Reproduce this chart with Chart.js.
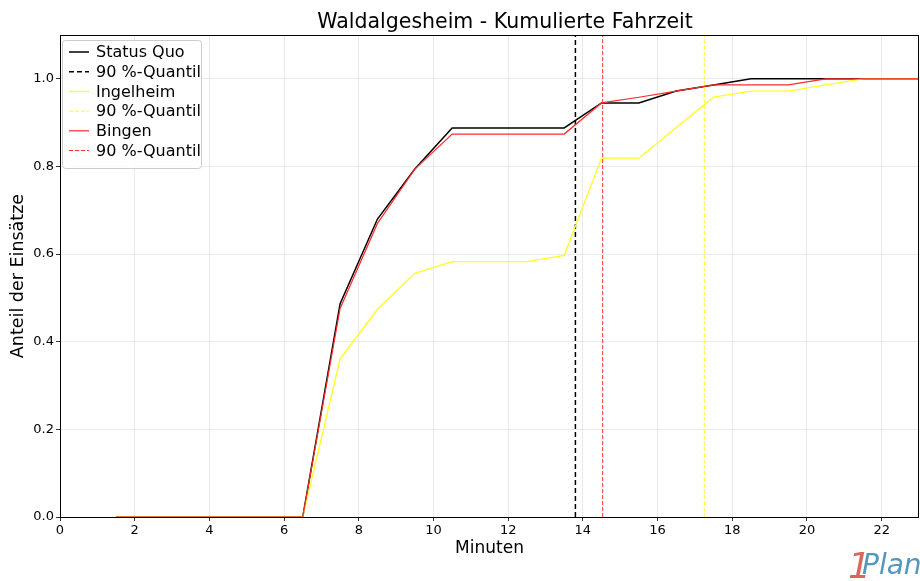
<!DOCTYPE html>
<html>
<head>
<meta charset="utf-8">
<script src="https://cdn.jsdelivr.net/npm/chart.js@4"></script>
<style>
  html, body { margin: 0; padding: 0; background: #fff; }
  canvas { display: block; }
</style>
</head>
<body>
<canvas id="chart" width="920" height="581"></canvas>
<script>
// Daten
const minutes = [1.5, 2.5, 3.5, 4.5, 5.5, 6.5, 7.5, 8.5, 9.5, 10.5, 11.5, 12.5, 13.5, 14.5, 15.5, 16.5, 17.5, 18.5, 19.5, 20.5, 21.5, 22.5, 23.5];
const statusQuo = [0, 0, 0, 0, 0, 0, 0.487, 0.680, 0.794, 0.888, 0.888, 0.888, 0.888, 0.945, 0.945, 0.972, 0.986, 1, 1, 1, 1, 1, 1];
const ingelheim = [0, 0, 0, 0, 0, 0, 0.361, 0.474, 0.556, 0.583, 0.583, 0.583, 0.597, 0.819, 0.819, 0.889, 0.958, 0.972, 0.972, 0.986, 1, 1, 1];
const bingen = [0, 0, 0, 0, 0, 0, 0.476, 0.670, 0.794, 0.874, 0.874, 0.874, 0.874, 0.945, 0.958, 0.972, 0.986, 0.986, 0.986, 1, 1, 1, 1];
const quantilStatusQuo = 13.8;
const quantilIngelheim = 17.25;
const quantilBingen = 14.53;
const xTicks = [0, 2, 4, 6, 8, 10, 12, 14, 16, 18, 20, 22];
const yTicks = [0, 0.2, 0.4, 0.6, 0.8, 1.0];

const FONT = "'DejaVu Sans', sans-serif";

const pts = (ys) => minutes.map((m, i) => ({ x: m, y: ys[i] }));
const vline = (x) => [{ x: x, y: 0 }, { x: x, y: 1.1 }];

// Reihenfolge wie matplotlib (Legende), Chart.js zeichnet den ersten Datensatz oben
const series = [
  { label: 'Status Quo', data: pts(statusQuo), borderColor: '#000000', borderWidth: 1.5, borderDash: [] },
  { label: '90 %-Quantil', data: vline(quantilStatusQuo), borderColor: '#000000', borderWidth: 1.5, borderDash: [5, 3] },
  { label: 'Ingelheim', data: pts(ingelheim), borderColor: '#ffff22', borderWidth: 1.3, borderDash: [] },
  { label: '90 %-Quantil', data: vline(quantilIngelheim), borderColor: '#ffff22', borderWidth: 1, borderDash: [4, 2] },
  { label: 'Bingen', data: pts(bingen), borderColor: '#ff2a2a', borderWidth: 1.2, borderDash: [] },
  { label: '90 %-Quantil', data: vline(quantilBingen), borderColor: '#ff3030', borderWidth: 1, borderDash: [4, 2] }
];

const datasets = series.slice().reverse().map(s => ({
  label: s.label,
  data: s.data,
  borderColor: s.borderColor,
  borderWidth: s.borderWidth,
  borderDash: s.borderDash,
  pointRadius: 0,
  fill: false,
  tension: 0
}));

const decor = {
  id: 'decor',
  afterDraw(chart) {
    const ctx = chart.ctx;
    const a = chart.chartArea;
    ctx.save();
    // Rahmen
    ctx.strokeStyle = '#000';
    ctx.lineWidth = 1;
    ctx.strokeRect(a.left + 0.5, a.top + 0.5, a.right - a.left - 1, a.bottom - a.top);

    // Titel
    ctx.fillStyle = '#000';
    ctx.font = '20.5px ' + FONT;
    ctx.textAlign = 'center';
    ctx.textBaseline = 'middle';
    ctx.fillText('Waldalgesheim - Kumulierte Fahrzeit', 505, 23);

    // Legende
    const lx = a.left + 2, ly = a.top + 5, lw = 139, lh = 128;
    ctx.fillStyle = 'rgba(255,255,255,0.85)';
    ctx.strokeStyle = '#cccccc';
    ctx.lineWidth = 1;
    ctx.beginPath();
    ctx.roundRect(lx + 0.5, ly + 0.5, lw, lh, 3);
    ctx.fill();
    ctx.stroke();
    ctx.font = '16px ' + FONT;
    ctx.textAlign = 'left';
    ctx.textBaseline = 'middle';
    series.forEach((s, i) => {
      const y = ly + 12 + i * 19.7;
      ctx.strokeStyle = s.borderColor;
      ctx.lineWidth = s.borderWidth;
      ctx.setLineDash(s.borderDash);
      ctx.beginPath();
      ctx.moveTo(lx + 7, y);
      ctx.lineTo(lx + 27, y);
      ctx.stroke();
      ctx.setLineDash([]);
      ctx.fillStyle = '#000';
      ctx.fillText(s.label, lx + 34, y + 1);
    });

    // Logo
    ctx.textAlign = 'left';
    ctx.textBaseline = 'alphabetic';
    ctx.font = 'italic 36px ' + FONT;
    ctx.fillStyle = '#d9675c';
    ctx.fillText('1', 848, 578);
    ctx.font = 'italic 28px ' + FONT;
    ctx.fillStyle = '#5596bd';
    ctx.fillText('Plan', 862, 574);
    ctx.restore();
  }
};

new Chart(document.getElementById('chart'), {
  type: 'line',
  data: { datasets: datasets },
  plugins: [decor],
  options: {
    responsive: false,
    animation: false,
    layout: { padding: { top: 35, right: 1, left: 4, bottom: 18 } },
    plugins: {
      legend: { display: false },
      tooltip: { enabled: false },
      title: { display: false }
    },
    scales: {
      x: {
        type: 'linear',
        min: 0,
        max: 23,
        afterFit(scale) { scale.height = 46; },
        afterBuildTicks(scale) { scale.ticks = xTicks.map(v => ({ value: v })); },
        ticks: {
          color: '#000',
          font: { family: FONT, size: 13 },
          padding: 2,
          maxRotation: 0,
          autoSkip: false,
          callback: v => String(v)
        },
        grid: { color: 'rgba(0,0,0,0.1)', lineWidth: 0.8, tickColor: '#000', tickLength: 4, drawTicks: true },
        border: { display: false },
        title: { display: true, text: 'Minuten', color: '#000', font: { family: FONT, size: 17 }, padding: { top: 0 } }
      },
      y: {
        type: 'linear',
        min: 0,
        max: 1.1,
        afterFit(scale) { scale.width = 56; },
        afterBuildTicks(scale) { scale.ticks = yTicks.map(v => ({ value: v })); },
        ticks: {
          color: '#000',
          font: { family: FONT, size: 13 },
          padding: 2,
          autoSkip: false,
          callback: v => v.toFixed(1)
        },
        grid: { color: 'rgba(0,0,0,0.1)', lineWidth: 0.8, tickColor: '#000', tickLength: 4, drawTicks: true },
        border: { display: false, dash: [] },
        title: { display: true, text: 'Anteil der Einsätze', color: '#000', font: { family: FONT, size: 17.5 }, padding: { bottom: 2 } }
      }
    }
  }
});
</script>
</body>
</html>
